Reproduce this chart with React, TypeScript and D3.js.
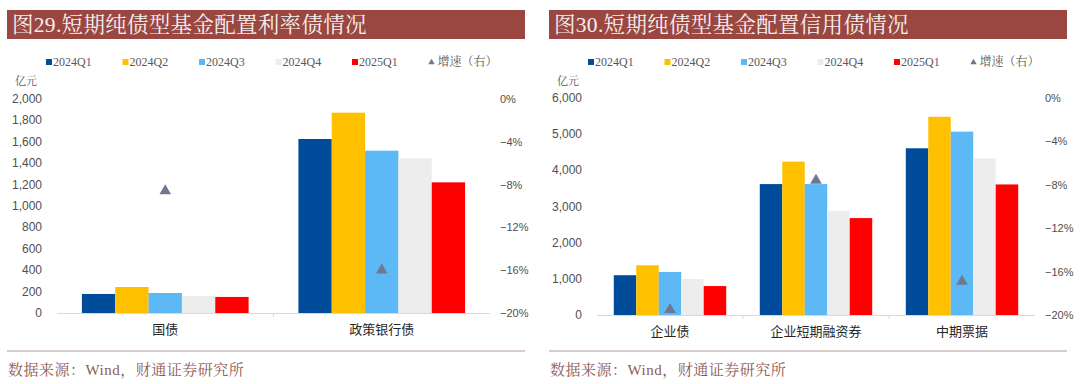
import React, { useEffect, useRef } from 'react';
import * as d3 from 'd3';

// series shared by both charts
const seriesNames = ['2024Q1', '2024Q2', '2024Q3', '2024Q4', '2025Q1'];
const seriesColors = ['#004C9B', '#FFC000', '#5CB9F5', '#EDEDED', '#FF0000'];
const growthName = '增速（右）';

// 图29 利率债
const rateCats = ['国债', '政策银行债'];
const rateValues = [
  [178, 1626],
  [243, 1872],
  [187, 1517],
  [159, 1446],
  [150, 1221]
];
const rateGrowth = [-8.6, -16.0];
const rateTicks = [0, 200, 400, 600, 800, 1000, 1200, 1400, 1600, 1800, 2000];

// 图30 信用债
const creditCats = ['企业债', '企业短期融资券', '中期票据'];
const creditValues = [
  [1100, 3620, 4610],
  [1375, 4240, 5480],
  [1190, 3620, 5070],
  [995, 2885, 4330],
  [800, 2680, 3610]
];
const creditGrowth = [-19.5, -7.6, -16.9];
const creditTicks = [0, 1000, 2000, 3000, 4000, 5000, 6000];

const pctTicks = [0, -4, -8, -12, -16, -20];

const serif = "'Liberation Serif', 'Noto Serif CJK SC', 'Noto Sans CJK SC', serif";
const sans = "'Liberation Sans', 'Noto Sans CJK SC', sans-serif";

function drawPanel(svg, p) {
  const g = svg.append('g');

  // title bar
  g.append('rect')
    .attr('x', p.left).attr('y', 10)
    .attr('width', p.right - p.left).attr('height', 29)
    .attr('fill', '#9A4742');
  g.append('text')
    .attr('x', p.left + 5).attr('y', 32)
    .attr('font-family', serif).attr('font-size', 21.5)
    .attr('letter-spacing', 0.3)
    .attr('fill', '#F7EFEE')
    .text(p.title);

  // legend
  seriesNames.forEach(function(name, i) {
    const lx = p.legendX + i * 76.5;
    g.append('rect')
      .attr('x', lx).attr('y', 59).attr('width', 6).attr('height', 6)
      .attr('fill', seriesColors[i]);
    g.append('text')
      .attr('x', lx + 7).attr('y', 66)
      .attr('font-family', serif).attr('font-size', 12).attr('fill', '#595959')
      .text(name);
  });
  const tx = p.legendX + 5 * 76.5;
  g.append('path')
    .attr('d', d3.symbol(d3.symbolTriangle).size(18)())
    .attr('transform', 'translate(' + (tx + 3) + ',62.5)')
    .attr('fill', '#6F7890');
  g.append('text')
    .attr('x', tx + 9).attr('y', 66)
    .attr('font-family', serif).attr('font-size', 12).attr('fill', '#595959')
    .text(growthName);

  g.append('text')
    .attr('x', p.left + 8).attr('y', 85)
    .attr('font-family', serif).attr('font-size', 11).attr('fill', '#595959')
    .text('亿元');

  // scales
  const x0 = d3.scaleBand().domain(p.cats).range([p.plotL, p.plotR]).padding(0);
  const inset = x0.bandwidth() * 0.115;
  const x1 = d3.scaleBand().domain(seriesNames)
    .range([inset, x0.bandwidth() - inset]).padding(0);
  const y = d3.scaleLinear().domain([0, p.yMax]).range([p.plotB, p.plotT]);
  const y2 = d3.scaleLinear().domain([-20, 0]).range([p.plotB, p.plotT]);

  // left axis labels
  g.selectAll('.ly').data(p.ticks).enter().append('text')
    .attr('x', p.plotL - 15).attr('y', function(d) { return y(d) + 4; })
    .attr('text-anchor', 'end')
    .attr('font-family', sans).attr('font-size', 12).attr('fill', '#505050')
    .text(function(d) { return d3.format(',')(d); });

  // right axis labels
  g.selectAll('.ry').data(pctTicks).enter().append('text')
    .attr('x', p.plotR + 10).attr('y', function(d) { return y2(d) + 4; })
    .attr('font-family', sans).attr('font-size', 11).attr('fill', '#505050')
    .text(function(d) { return (d < 0 ? '\u2212' + (-d) : d) + '%'; });

  // bars
  seriesNames.forEach(function(name, i) {
    g.selectAll('.bar' + i).data(p.values[i]).enter().append('rect')
      .attr('x', function(d, j) { return x0(p.cats[j]) + x1(name); })
      .attr('y', function(d) { return y(d); })
      .attr('width', x1.bandwidth())
      .attr('height', function(d) { return p.plotB - y(d); })
      .attr('fill', seriesColors[i]);
  });

  // baseline and category ticks
  g.append('line')
    .attr('x1', p.plotL).attr('x2', p.plotR)
    .attr('y1', p.plotB + 0.5).attr('y2', p.plotB + 0.5)
    .attr('stroke', '#D9D9D9');
  p.cats.slice(1).forEach(function(c) {
    g.append('line')
      .attr('x1', x0(c)).attr('x2', x0(c))
      .attr('y1', p.plotB).attr('y2', p.plotB + 4)
      .attr('stroke', '#D9D9D9');
  });

  // growth markers
  g.selectAll('.tri').data(p.growth).enter().append('path')
    .attr('d', d3.symbol(d3.symbolTriangle).size(58)())
    .attr('transform', function(d, j) {
      return 'translate(' + (x0(p.cats[j]) + x0.bandwidth() / 2) + ',' + y2(d) + ')';
    })
    .attr('fill', '#6F7890');

  // category labels
  g.selectAll('.cat').data(p.cats).enter().append('text')
    .attr('x', function(d) { return x0(d) + x0.bandwidth() / 2; })
    .attr('y', p.plotB + 21)
    .attr('text-anchor', 'middle')
    .attr('font-family', sans).attr('font-size', 13).attr('fill', '#262626')
    .text(function(d) { return d; });

  // footer
  g.append('line')
    .attr('x1', p.left).attr('x2', p.right)
    .attr('y1', 351).attr('y2', 351)
    .attr('stroke', '#B39C98').attr('stroke-width', 1.2);
  g.append('text')
    .attr('x', p.left + 1).attr('y', 375)
    .attr('font-family', serif).attr('font-size', 15).attr('fill', '#8E5B56')
    .attr('letter-spacing', 0.5)
    .text('数据来源：Wind，财通证券研究所');
}

export default function App() {
  const ref = useRef(null);

  useEffect(function() {
    const svg = d3.select(ref.current);
    svg.selectAll('*').remove();

    drawPanel(svg, {
      title: '图29.短期纯债型基金配置利率债情况',
      left: 7, right: 525, legendX: 46,
      plotL: 57, plotR: 490, plotT: 99, plotB: 313,
      cats: rateCats, values: rateValues, growth: rateGrowth,
      ticks: rateTicks, yMax: 2000
    });

    drawPanel(svg, {
      title: '图30.短期纯债型基金配置信用债情况',
      left: 549, right: 1067, legendX: 588,
      plotL: 597, plotR: 1035, plotT: 98, plotB: 315,
      cats: creditCats, values: creditValues, growth: creditGrowth,
      ticks: creditTicks, yMax: 6000
    });
  }, []);

  return (
    <svg ref={ref} width={1080} height={384}
      style={{ position: 'absolute', left: 0, top: 0, background: '#fff' }} />
  );
}
